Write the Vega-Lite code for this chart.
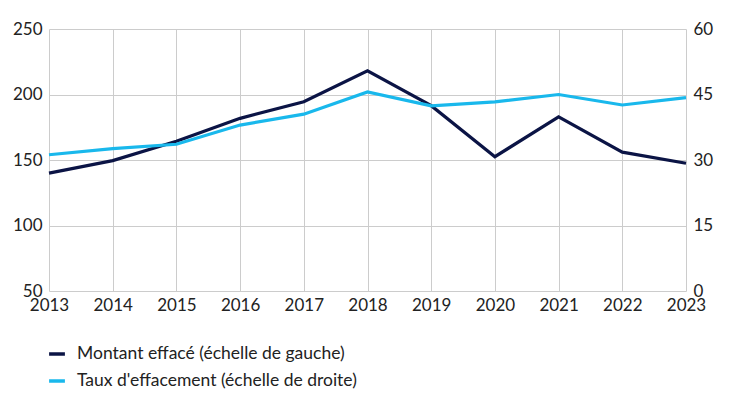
{
  "$schema": "https://vega.github.io/schema/vega-lite/v6.json",
  "autosize": {"type": "none"},
  "padding": {"left": 49, "top": 29, "right": 44, "bottom": 119},
  "width": 637,
  "height": 262,
  "background": "white",
  "config": {
    "font": "Lato",
    "view": {"stroke": null},
    "axis": {"labelFont": "Lato", "labelFontSize": 17, "labelColor": "#222222", "gridColor": "#cccccc", "gridWidth": 1, "domain": false, "ticks": false}
  },
  "data": {
    "values": [
      {"year": 2013, "montant": 140, "taux": 31.2},
      {"year": 2014, "montant": 149.5, "taux": 32.6},
      {"year": 2015, "montant": 164.3, "taux": 33.6},
      {"year": 2016, "montant": 181.8, "taux": 38.0},
      {"year": 2017, "montant": 194.5, "taux": 40.5},
      {"year": 2018, "montant": 218, "taux": 45.6},
      {"year": 2019, "montant": 191.5, "taux": 42.4},
      {"year": 2020, "montant": 152.5, "taux": 43.3},
      {"year": 2021, "montant": 183, "taux": 45.0},
      {"year": 2022, "montant": 156, "taux": 42.6},
      {"year": 2023, "montant": 147.5, "taux": 44.3}
    ]
  },
  "encoding": {
    "x": {
      "field": "year", "type": "quantitative",
      "scale": {"domain": [2013, 2023], "nice": false, "zero": false},
      "axis": {"title": null, "format": "d", "values": [2013,2014,2015,2016,2017,2018,2019,2020,2021,2022,2023], "labelPadding": 6, "labelFlush": false, "labelOverlap": false}
    }
  },
  "layer": [
    {
      "mark": {"type": "line", "strokeWidth": 3.2, "strokeJoin": "miter"},
      "encoding": {
        "y": {
          "field": "montant", "type": "quantitative",
          "scale": {"domain": [50, 250], "nice": false, "zero": false},
          "axis": {"title": null, "values": [50,100,150,200,250], "labelPadding": 7, "labelFlush": false, "labelOverlap": false}
        },
        "color": {
          "datum": "Montant effacé (échelle de gauche)",
          "type": "nominal",
          "scale": {"domain": ["Montant effacé (échelle de gauche)", "Taux d'effacement (échelle de droite)"], "range": ["#0b1445", "#19b8ec"]},
          "legend": {
            "title": null, "orient": "none", "legendX": -2, "legendY": 315, "direction": "vertical",
            "symbolType": "stroke", "symbolStrokeWidth": 3.5, "symbolSize": 250,
            "labelFont": "Lato", "labelFontSize": 17.5, "labelColor": "#222222", "rowPadding": 8, "labelOffset": 10, "labelLimit": 0
          }
        }
      }
    },
    {
      "mark": {"type": "line", "strokeWidth": 3.2, "strokeJoin": "miter"},
      "encoding": {
        "y": {
          "field": "taux", "type": "quantitative",
          "scale": {"domain": [0, 60], "nice": false},
          "axis": {"title": null, "orient": "right", "values": [0,15,30,45,60], "grid": false, "labelPadding": 7, "labelFlush": false, "labelOverlap": false}
        },
        "color": {"datum": "Taux d'effacement (échelle de droite)", "type": "nominal"}
      }
    }
  ],
  "resolve": {"scale": {"y": "independent"}}
}
